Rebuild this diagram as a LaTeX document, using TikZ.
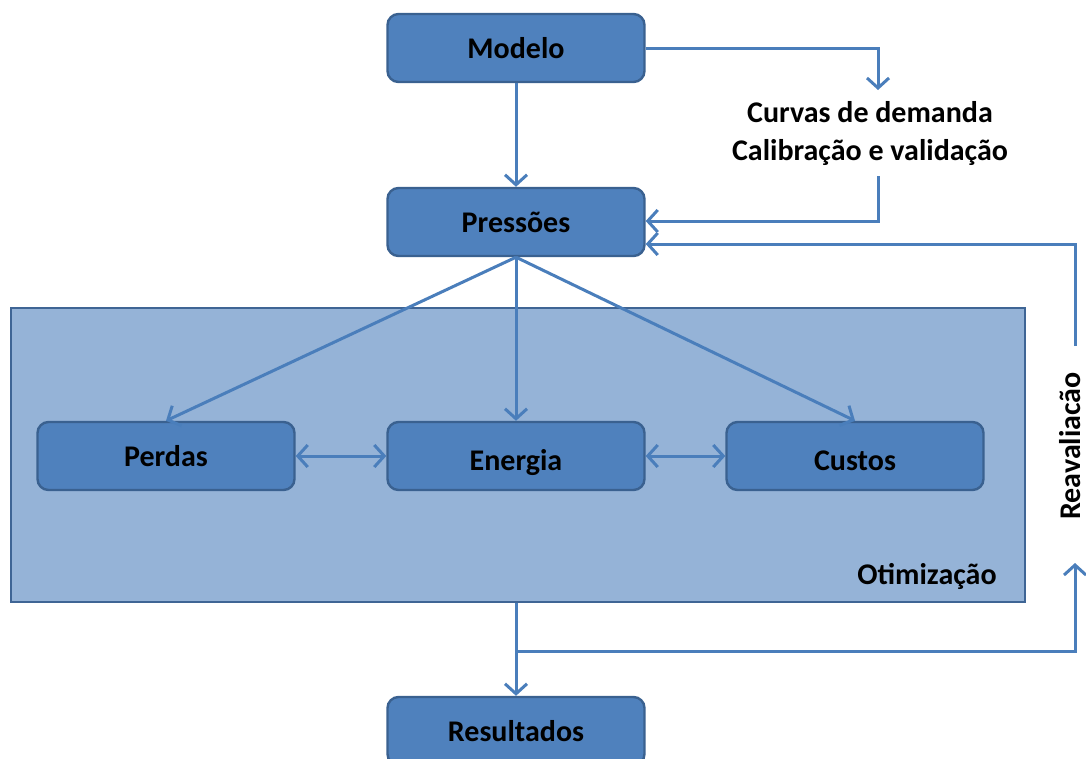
\documentclass[tikz,border=0pt]{standalone}
\usepackage{fontspec}
\setmainfont{Carlito}
\usetikzlibrary{arrows.meta}
\definecolor{boxfill}{HTML}{4F81BD}
\definecolor{boxdraw}{HTML}{3A6190}
\definecolor{optfill}{HTML}{95B3D7}
\definecolor{optdraw}{HTML}{3F6595}
\definecolor{arrowc}{HTML}{4A7EBB}
\tikzset{
  blockbox/.style={draw=boxdraw, fill=boxfill, line width=2.4pt, rounded corners=11pt,
    minimum width=257pt, minimum height=68pt, inner sep=0pt, text height=22pt, text depth=2pt,
    font=\fontsize{30}{34}\selectfont\bfseries},
  conn/.style={draw=arrowc, line width=3pt, -{Straight Barb[length=10pt,width=22pt,line width=3pt]}},
  dconn/.style={draw=arrowc, line width=3pt, {Straight Barb[length=10pt,width=22pt,line width=3pt]}-{Straight Barb[length=10pt,width=22pt,line width=3pt]}},
  lbl/.style={font=\fontsize{30}{34}\selectfont\bfseries, inner sep=0pt}
}
\begin{document}
\begin{tikzpicture}[x=1pt,y=-1pt]
\useasboundingbox (0,0) rectangle (1086,758);
% optimisation container
\node[draw=optdraw, fill=optfill, line width=2.6pt, minimum width=1014pt, minimum height=294pt, inner sep=0pt] (opt) at (518,455) {};
\node[lbl, anchor=base] (optl) at (927,584) {Otimização};
% boxes
\node[blockbox] (modelo) at (516,48) {Modelo};
\node[blockbox] (press) at (516,222) {Pressões};
\node[blockbox] (perdas) at (166,456) {Perdas};
\node[blockbox] (energia) at (516,456) {\raisebox{-4pt}{Energia}};
\node[blockbox] (custos) at (855,456) {\raisebox{-4pt}{Custos}};
\node[blockbox] (result) at (516,731) {Resultados};
% labels
\node[lbl, anchor=base] (curvas) at (870,122) {Curvas de demanda};
\node[lbl, anchor=base] (calib) at (870,160) {Calibração e validação};
\node[lbl, rotate=90, anchor=base, text depth=0pt] (reav) at (1080,446) {Reavaliacão};
\coordinate (c1) at (878,48);
\coordinate (c2) at (878,90);
\coordinate (c3) at (878,176);
\coordinate (c4) at (878,221);
\coordinate (r1) at (1075,346);
\coordinate (r2) at (1075,244);
\coordinate (b1) at (516,651);
\coordinate (b2) at (1075,651);
\coordinate (b3) at (1075,563);
% connectors
\draw[conn] (modelo) -- (press);
\draw[conn] (modelo.east) -- (c1) -- (c2);
\draw[conn] (c3) -- (c4) -- (press.east |- c4);
\draw[conn] (r1) -- (r2) -- (press.east |- r2);
\draw[conn] (press.south) -- (perdas.north);
\draw[conn] (press.south) -- (energia.north);
\draw[conn] (press.south) -- (custos.north);
\draw[dconn] (perdas.east) -- (energia.west);
\draw[dconn] (energia.east) -- (custos.west);
\draw[conn] (opt.south -| result) -- (result.north);
\draw[conn] (b1) -- (b2) -- (b3);
\end{tikzpicture}
\end{document}
